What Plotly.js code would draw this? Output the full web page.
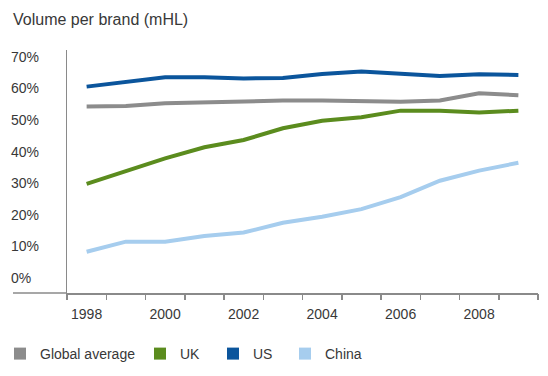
<!DOCTYPE html>
<html>
<head>
<meta charset="utf-8">
<script src="https://cdn.plot.ly/plotly-3.0.1.min.js"></script>
<style>html,body{margin:0;padding:0;background:#fff;}#chart{width:548px;height:376px;}</style>
</head>
<body>
<div id="chart"></div>
<script>
// ---- data ----
const years = [1998, 1999, 2000, 2001, 2002, 2003, 2004, 2005, 2006, 2007, 2008, 2009];
const globalAverage = [54.3, 54.5, 55.3, 55.6, 56.1, 56.2, 56.2, 56.0, 55.8, 56.2, 58.5, 57.9];
const uk = [29.8, 33.7, 37.9, 41.4, 43.7, 47.4, 49.8, 50.9, 53.0, 53.0, 52.4, 53.0];
const us = [60.6, 62.2, 63.6, 63.6, 63.2, 63.3, 64.6, 65.4, 64.6, 64.0, 64.5, 64.3];
const china = [8.3, 11.5, 11.5, 13.3, 14.4, 17.5, 19.4, 21.8, 25.6, 30.8, 34.0, 36.5];
const seriesNames = ["Global average", "UK", "US", "China"];
const xTickVals = [1998, 2000, 2002, 2004, 2006, 2008];
const xTickText = ["1998", "2000", "2002", "2004", "2006", "2008"];
const yTickVals = [0, 10, 20, 30, 40, 50, 60, 70];
const yTickText = ["0%", "10%", "20%", "30%", "40%", "50%", "60%", "70%"];
const titleText = "Volume per brand (mHL)";

// ---- styling ----
const colors = ["#8c8c8c", "#5b8c1e", "#0b559c", "#a6cdee"];
const font = "Liberation Sans, Arial, sans-serif";
const textColor = "#383838";
const axisColor = "#8a8a8a";
const W = 548, H = 376;
const mL = 10, mR = 10, mT = 50, mB = 83;
const xRange = [1997.5, 2009.5];
const yRange = [-4.75, 72.2];

const values = [globalAverage, uk, us, china];
const traces = [];
values.forEach((v, i) => {
  traces.push({
    x: years, y: v, type: "scatter", mode: "lines",
    line: {color: colors[i], width: 4, shape: "linear"},
    showlegend: false, hoverinfo: "skip"
  });
});
// legend entries (square swatches), one legend per entry
const legendIds = ["legend", "legend2", "legend3", "legend4"];
values.forEach((v, i) => {
  traces.push({
    x: [null], y: [null], type: "scatter", mode: "markers",
    xaxis: "x2", yaxis: "y2",
    name: seriesNames[i],
    marker: {symbol: "square", size: 12, color: colors[i]},
    showlegend: true, legend: legendIds[i]
  });
});

const legendX = [-6, 140, 213, 285]; // px of legend left
function mkLegend(px) {
  return {
    orientation: "h", xref: "container", yref: "container",
    x: px / W, xanchor: "left", y: 1 - 354 / H, yanchor: "middle",
    font: {family: font, size: 14, color: textColor},
    bgcolor: "rgba(0,0,0,0)", borderwidth: 0
  };
}

const domainStart = (67 - mL) / (W - mL - mR);

const layout = {
  width: W, height: H,
  margin: {l: mL, r: mR, t: mT, b: mB, pad: 0},
  paper_bgcolor: "#ffffff", plot_bgcolor: "#ffffff",
  font: {family: font, size: 14, color: textColor},
  title: {
    text: titleText, xref: "container", yref: "container",
    x: 13 / W, xanchor: "left", y: 1 - 19 / H, yanchor: "middle",
    font: {family: font, size: 16, color: textColor}
  },
  xaxis: {
    domain: [domainStart, 1], range: xRange, type: "linear",
    tickvals: xTickVals, ticktext: xTickText,
    ticks: "", showgrid: false, zeroline: false,
    showline: true, linecolor: axisColor, linewidth: 1.5,
    ticklabelstandoff: 8,
    tickfont: {family: font, size: 14, color: textColor},
    fixedrange: true
  },
  xaxis2: {
    overlaying: "x", domain: [domainStart, 1], range: xRange, type: "linear", anchor: "y",
    tick0: 1997.5, dtick: 1, ticks: "outside", ticklen: 6, tickwidth: 1.5, tickcolor: axisColor,
    showticklabels: false, showgrid: false, zeroline: false, showline: false,
    fixedrange: true
  },
  yaxis: {
    range: yRange, anchor: "x",
    showticklabels: false, ticks: "", showgrid: false, zeroline: false,
    showline: true, linecolor: axisColor, linewidth: 1.5,
    fixedrange: true
  },
  yaxis2: {
    overlaying: "y", range: yRange, side: "right", anchor: "free", position: 0,
    tickvals: yTickVals, ticktext: yTickText,
    ticks: "", showgrid: false, zeroline: false, showline: false,
    ticklabelstandoff: 0,
    tickfont: {family: font, size: 14, color: textColor},
    fixedrange: true
  },
  shapes: [{
    type: "line", xref: "paper", yref: "paper",
    x0: (13 - mL) / (W - mL - mR), x1: domainStart, y0: 0, y1: 0,
    line: {color: axisColor, width: 1.5}
  }]
};
legendIds.forEach((id, i) => { layout[id] = mkLegend(legendX[i]); });

Plotly.newPlot("chart", traces, layout, {displayModeBar: false, staticPlot: true});
</script>
</body>
</html>
